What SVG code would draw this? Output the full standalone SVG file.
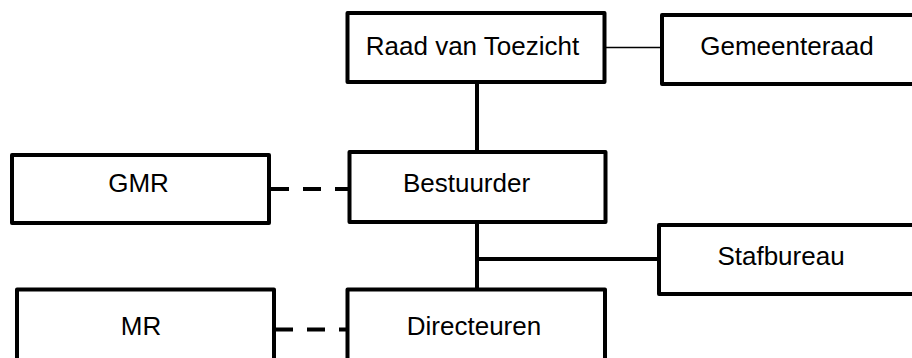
<svg xmlns="http://www.w3.org/2000/svg" width="912" height="358" viewBox="0 0 912 358">
<style>
.box{fill:#fff;stroke:#000;stroke-width:4;stroke-linejoin:round}
.lbl{font-family:"Liberation Sans",Arial,sans-serif;font-size:26px;fill:#000;text-anchor:middle}
.ln{stroke:#000;stroke-width:4;fill:none}
.thin{stroke:#000;stroke-width:1.5;fill:none}
.dash{stroke:#000;stroke-width:4;fill:none;stroke-dasharray:18 14}
</style>
<rect width="912" height="358" fill="#fff"/>
<g id="connectors">
<line class="thin" x1="606" y1="47.5" x2="660" y2="47.5"/>
<line class="ln" x1="477" y1="84" x2="477" y2="150"/>
<line class="ln" x1="477" y1="224" x2="477" y2="288"/>
<line class="ln" x1="477" y1="259" x2="657" y2="259"/>
<line class="dash" x1="271" y1="189" x2="348" y2="189"/>
<line class="dash" x1="275" y1="329.5" x2="346" y2="329.5"/>
</g>
<g id="raad">
<rect class="box" x="347.5" y="13" width="257" height="69"/>
<text class="lbl" x="472.5" y="55">Raad van Toezicht</text>
</g>
<g id="gemeenteraad">
<rect class="box" x="662" y="15" width="270" height="69"/>
<text class="lbl" x="787" y="55">Gemeenteraad</text>
</g>
<g id="gmr">
<rect class="box" x="12" y="155" width="257" height="68"/>
<text class="lbl" x="138.5" y="192">GMR</text>
</g>
<g id="bestuurder">
<rect class="box" x="349.5" y="152" width="256" height="70"/>
<text class="lbl" x="466.5" y="192">Bestuurder</text>
</g>
<g id="stafbureau">
<rect class="box" x="659" y="225" width="270" height="69"/>
<text class="lbl" x="781" y="265">Stafbureau</text>
</g>
<g id="mr">
<rect class="box" x="17" y="289.5" width="257" height="90"/>
<text class="lbl" x="141" y="335">MR</text>
</g>
<g id="directeuren">
<rect class="box" x="347.5" y="289.5" width="257.5" height="90"/>
<text class="lbl" x="474" y="335">Directeuren</text>
</g>
</svg>
